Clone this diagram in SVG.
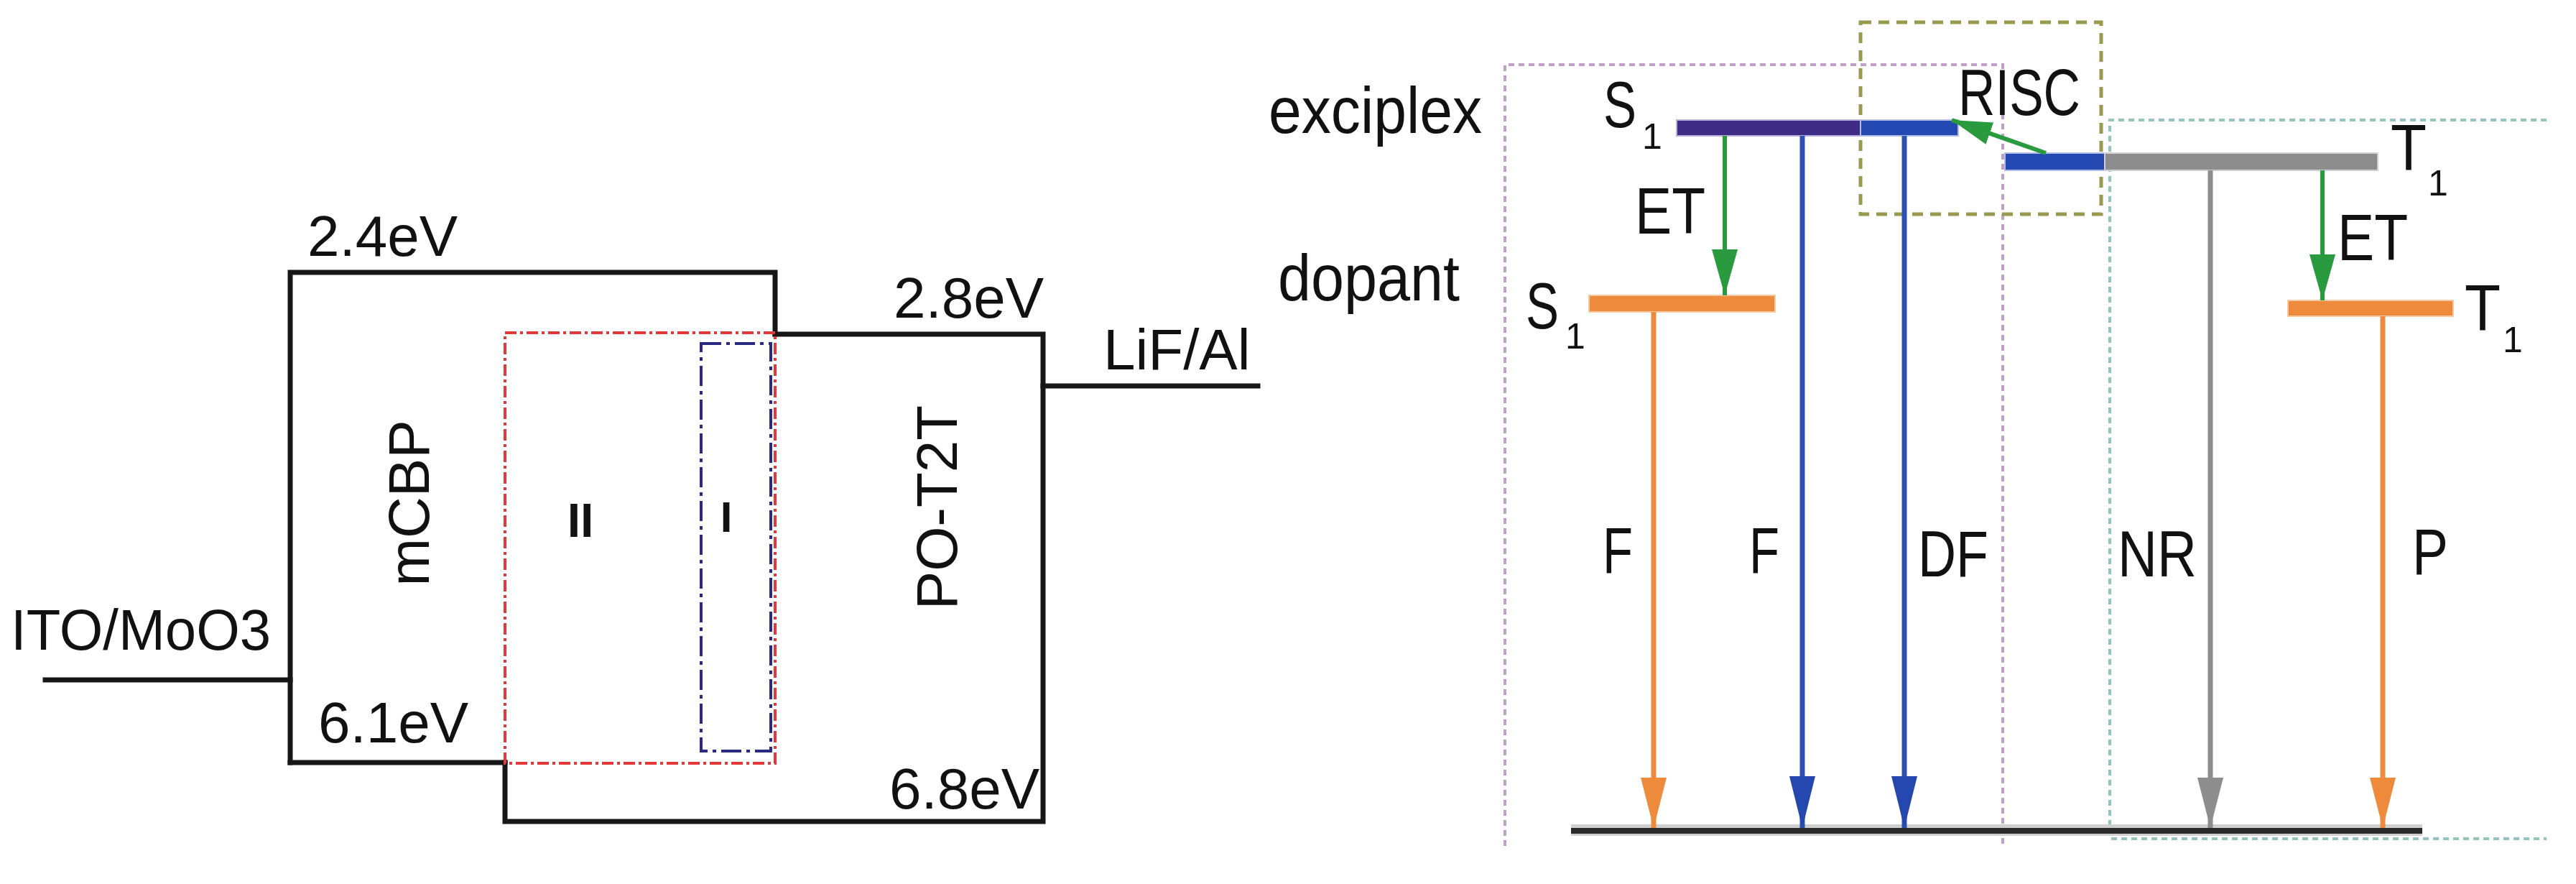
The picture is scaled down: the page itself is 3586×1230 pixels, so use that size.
<svg xmlns="http://www.w3.org/2000/svg" width="3586" height="1230" viewBox="0 0 3586 1230">
<style>
  .t { font-family: "Liberation Sans", Arial, sans-serif; fill: #111; }
  .lt { font-size: 80px; }
  .rt { font-size: 90px; }
  .sub { font-size: 50px; }
  .band { fill: none; stroke: #161616; stroke-width: 7; stroke-linecap: square; }
  .emit { fill: none; stroke-width: 7; }
  .orange { stroke: #ee8a3c; }
  .blue { stroke: #2c4fb2; }
  .gray { stroke: #8d8d8d; }
  .green { stroke: #2a9a3e; stroke-width: 6; }
</style>
<defs>
  <marker id="ah-orange" viewBox="0 0 70 36" refX="70" refY="18" markerWidth="70" markerHeight="36" markerUnits="userSpaceOnUse" orient="auto"><path d="M0,0 L70,18 L0,36 Z" fill="#ee8a3c"/></marker>
  <marker id="ah-blue" viewBox="0 0 72 36" refX="72" refY="18" markerWidth="72" markerHeight="36" markerUnits="userSpaceOnUse" orient="auto"><path d="M0,0 L72,18 L0,36 Z" fill="#2448b0"/></marker>
  <marker id="ah-gray" viewBox="0 0 70 36" refX="70" refY="18" markerWidth="70" markerHeight="36" markerUnits="userSpaceOnUse" orient="auto"><path d="M0,0 L70,18 L0,36 Z" fill="#8d8d8d"/></marker>
  <marker id="ah-green" viewBox="0 0 64 36" refX="64" refY="18" markerWidth="64" markerHeight="36" markerUnits="userSpaceOnUse" orient="auto"><path d="M0,0 L64,18 L0,36 Z" fill="#2a9a3e"/></marker>
  <marker id="ah-green-s" viewBox="0 0 56 32" refX="56" refY="16" markerWidth="56" markerHeight="32" markerUnits="userSpaceOnUse" orient="auto"><path d="M0,0 L56,16 L0,32 Z" fill="#2a9a3e"/></marker>
</defs>
<rect width="3586" height="1230" fill="#ffffff"/>

<!-- ===== Left: energy band diagram ===== -->
<g id="ito">
  <path class="band" d="M63,946 H404"/>
  <text class="t lt" x="15" y="904" textLength="362" lengthAdjust="spacingAndGlyphs">ITO/MoO3</text>
</g>
<g id="mcbp">
  <path class="band" d="M404,1061 V379 H1079 V465"/>
  <path class="band" d="M404,1061 H703"/>
  <text class="t lt" x="428" y="356">2.4eV</text>
  <text class="t lt" x="443" y="1033">6.1eV</text>
  <text class="t lt" text-anchor="middle" transform="translate(597,700) rotate(-90)">mCBP</text>
</g>
<g id="po-t2t">
  <path class="band" d="M1079,465 H1452 V1143 H703 V1061"/>
  <text class="t lt" x="1244" y="442">2.8eV</text>
  <text class="t lt" x="1238" y="1125">6.8eV</text>
  <text class="t lt" text-anchor="middle" transform="translate(1332,706) rotate(-90)">PO-T2T</text>
</g>
<g id="lif-al">
  <path class="band" d="M1452,537 H1751"/>
  <text class="t lt" x="1536" y="514">LiF/Al</text>
</g>
<g id="region-II">
  <rect x="703" y="463" width="376" height="599" fill="none" stroke="#e2383a" stroke-width="4" stroke-dasharray="16 5 4 5"/>
  <text class="t" x="808" y="747" text-anchor="middle" font-size="66" font-weight="bold">II</text>
</g>
<g id="region-I">
  <rect x="976" y="478" width="97" height="567" fill="none" stroke="#2a2a82" stroke-width="4" stroke-dasharray="28 7 5 7"/>
  <text class="t" x="1011" y="740" text-anchor="middle" font-size="60" font-weight="bold" fill="#444">I</text>
</g>

<!-- ===== Right: energy level scheme ===== -->
<g id="regions">
  <path id="singlet-region" d="M2095,1177 V90 H2788 V1177" fill="none" stroke="#c0a0c6" stroke-width="4" stroke-dasharray="8 6"/>
  <rect id="risc-region" x="2590" y="31" width="335" height="267" fill="none" stroke="#9a9a4e" stroke-width="5" stroke-dasharray="15 10"/>
  <path id="triplet-region" d="M3545,167 H2937 V1167 H3545" fill="none" stroke="#94c4c0" stroke-width="4" stroke-dasharray="8 6"/>
</g>

<g id="labels">
  <text class="t rt" x="1766" y="185" textLength="297" lengthAdjust="spacingAndGlyphs">exciplex</text>
  <text class="t rt" x="1779" y="418" textLength="253" lengthAdjust="spacingAndGlyphs">dopant</text>
</g>

<g id="s1-exciplex">
  <rect x="2334" y="167" width="256" height="22" fill="#3d2b86" stroke="#b7b0dc" stroke-width="2"/>
  <rect x="2590" y="167" width="136" height="22" fill="#2448b2" stroke="#b0bde6" stroke-width="2"/>
  <text class="t rt" x="2232" y="177" textLength="46" lengthAdjust="spacingAndGlyphs">S</text>
  <text class="t sub" x="2286" y="207">1</text>
</g>
<g id="t1-exciplex">
  <rect x="2791" y="213" width="139" height="24" fill="#2448b2" stroke="#b0bde6" stroke-width="2"/>
  <rect x="2930" y="213" width="380" height="24" fill="#8d8d8d" stroke="#d0d0d0" stroke-width="2"/>
  <text class="t rt" x="3328" y="237" textLength="50" lengthAdjust="spacingAndGlyphs">T</text>
  <text class="t sub" x="3380" y="272">1</text>
</g>
<g id="s1-dopant">
  <rect x="2212" y="411" width="259" height="23" fill="#ee8a3c" stroke="#f8c8a0" stroke-width="2"/>
  <text class="t rt" x="2124" y="457" textLength="46" lengthAdjust="spacingAndGlyphs">S</text>
  <text class="t sub" x="2179" y="485">1</text>
</g>
<g id="t1-dopant">
  <rect x="3185" y="418" width="230" height="22" fill="#ee8a3c" stroke="#f8c8a0" stroke-width="2"/>
  <text class="t rt" x="3431" y="460" textLength="50" lengthAdjust="spacingAndGlyphs">T</text>
  <text class="t sub" x="3484" y="490">1</text>
</g>
<g id="ground">
  <rect x="2187" y="1147" width="1185" height="16" fill="#cfcfcf"/>
  <rect x="2187" y="1152" width="1185" height="8" fill="#2a2a2a"/>
</g>

<g id="connectors">
  <line class="emit green" x1="2401" y1="189" x2="2401" y2="411" marker-end="url(#ah-green)"/>
  <line class="emit green" x1="3233" y1="237" x2="3233" y2="418" marker-end="url(#ah-green)"/>
  <line class="emit green" x1="2848" y1="213" x2="2717" y2="167" marker-end="url(#ah-green-s)"/>
  <line class="emit orange" x1="2302" y1="434" x2="2302" y2="1152" marker-end="url(#ah-orange)"/>
  <line class="emit blue" x1="2509" y1="189" x2="2509" y2="1152" marker-end="url(#ah-blue)"/>
  <line class="emit blue" x1="2651" y1="189" x2="2651" y2="1152" marker-end="url(#ah-blue)"/>
  <line class="emit gray" x1="3077" y1="237" x2="3077" y2="1152" marker-end="url(#ah-gray)"/>
  <line class="emit orange" x1="3317" y1="440" x2="3317" y2="1152" marker-end="url(#ah-orange)"/>
</g>

<g id="connector-labels">
  <text class="t rt" x="2276" y="325" textLength="98" lengthAdjust="spacingAndGlyphs">ET</text>
  <text class="t rt" x="3254" y="362" textLength="98" lengthAdjust="spacingAndGlyphs">ET</text>
  <text class="t rt" x="2726" y="160" textLength="170" lengthAdjust="spacingAndGlyphs">RISC</text>
  <text class="t rt" x="2231" y="797" textLength="42" lengthAdjust="spacingAndGlyphs">F</text>
  <text class="t rt" x="2435" y="797" textLength="42" lengthAdjust="spacingAndGlyphs">F</text>
  <text class="t rt" x="2670" y="802" textLength="98" lengthAdjust="spacingAndGlyphs">DF</text>
  <text class="t rt" x="2948" y="802" textLength="110" lengthAdjust="spacingAndGlyphs">NR</text>
  <text class="t rt" x="3358" y="799" textLength="50" lengthAdjust="spacingAndGlyphs">P</text>
</g>
</svg>
